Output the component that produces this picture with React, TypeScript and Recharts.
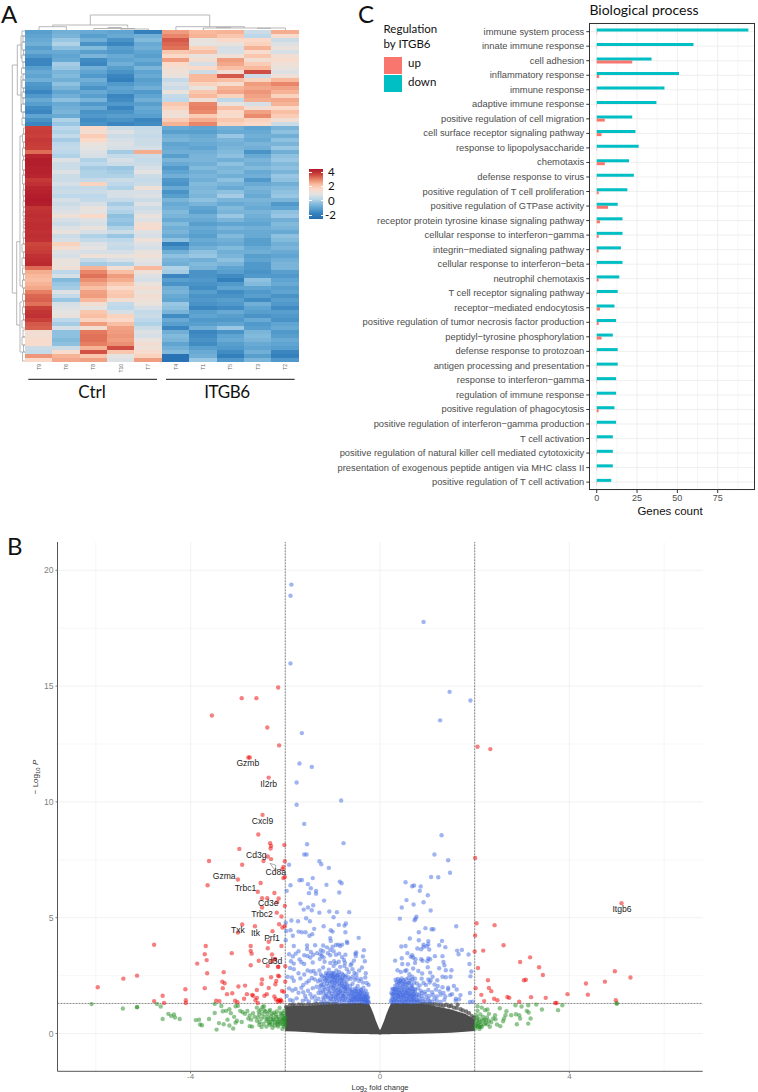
import {
  Area,
  Bar,
  BarChart,
  CartesianGrid,
  ComposedChart,
  Line,
  LineChart,
  ReferenceLine,
  Scatter,
  XAxis,
  YAxis,
} from "recharts";

type Pair = [number, number];

// ─── Panel A: heatmap values, one list per sample column ───────────────────

const HEAT_SAMPLES = ["T9", "T6", "T8", "T10", "T7", "T4", "T1", "T5", "T3", "T2"];

const HEAT_T9 = [
  -1.5, -1.4, -1.3, -1.2, -1.5, -1.3, -1.6, -1.9, -1.9, -1.5, -1.3, -1.4, -1.2, -1.6, -1.7, -1.9, -1.6, -1.3, -1.5, -1.8, -1.9, -1.4, -1.7, -1.9,
  3.0, 3.1, 3.0, 3.2, 3.1, 3.0, 2.3, 3.7, 3.9, 3.9, 3.8, 3.8, 3.7, 3.2, 3.4, 3.7, 3.8, 3.9, 4.0, 3.9, 3.3, 3.4, 3.5, 3.4, 3.5, 3.5, 3.4, 3.5, 3.4, 2.9, 3.0, 3.1, 3.4, 3.5, 3.6,
  2.3, 1.2, 1.0, 0.9, 1.1, 1.3, 2.0, 2.4, 2.5, 2.2, 3.0, 3.3, 3.4, 3.0, 2.6, 2.5,
  0.3, 0.3, 0.4, 0.4, -0.3, -0.4, 1.6, 0.5,
];
const HEAT_T6 = [
  -1.2, -1.1, -0.8, -0.6, -0.9, -1.3, -1.4, -1.3, -0.7, -0.8, -1.1, -1.0, -1.2, -0.9, -1.1, -1.4, -1.2, -0.9, -1.3, -1.2, -1.1, -1.3, -0.6, -0.8,
  -0.5, -0.6, -0.4, -0.7, -0.5, -0.4, -0.5, -0.6, -0.1, -0.3, -0.3, -0.1, -0.3, -0.3, -0.2, -0.4, -0.3, -0.5, -0.2, -0.3, -0.2, -0.1, 0.2, -0.2, -0.3, -0.1, 0.1, -0.3, -0.2, 0.6, 0.3, -0.1, -0.2, 0.1, 0.1,
  0.2, -0.5, -0.2, -1.0, -0.8, -0.7, -0.1, -0.4, -0.8, -0.2, -0.1, 0, 0.1, -0.5, -0.7, -0.2,
  -0.9, -0.9, -1.0, -0.9, -0.3, 0.4, 1.1, 1.3,
];
const HEAT_T8 = [
  -1.3, -1.5, -1.2, -1.7, -1.0, -1.5, -1.1, -1.8, -1.9, -1.2, -1.4, -1.6, -1.2, -1.4, -1.7, -1.3, -1.5, -1.1, -1.6, -1.3, -1.7, -1.6, -1.8, -1.7,
  0.5, 0.3, 0.7, 0.5, 0.1, 0, -0.1, -0.2, -0.6, -0.5, -0.7, -0.6, -0.6, -0.4, 0.6, -0.4, -0.3, -0.5, -0.4, -0.2, 0.1, 0, 0.5, -0.1, -0.2, 0.1, -0.2, -0.6, -0.4, -0.1, 0, -0.2, 0.2, -0.4, -0.7,
  1.1, 1.9, 2.2, 1.7, 1.3, 0.9, 1.4, 1.5, 1.0, 0.3, 0, 0.8, 0.9, 0.6, 1.5, 0.3,
  2.1, 2.2, 2.2, 2.0, 1.1, 2.7, 0.8, 1.4,
];
const HEAT_T10 = [
  -1.4, -1.3, -1.7, -1.9, -1.5, -1.6, -1.3, -1.4, -1.2, -1.5, -1.7, -1.9, -2.0, -1.6, -1.4, -1.5, -1.9, -1.8, -1.6, -1.9, -1.7, -1.5, -1.7, -1.9,
  -0.3, -0.1, -0.3, -0.2, -0.1, -0.2, -0.7, -0.4, -0.2, -0.3, -0.8, -0.7, -0.6, -0.3, -0.5, -0.6, -0.2, -0.2, -0.4, -0.7, -0.5, -0.6, -0.9, -0.8, -0.9, -0.6, -0.3, -0.8, -0.5, -0.3, -0.4, -0.2, 0.1, -0.2, -0.6,
  0.3, 0.9, 1.5, 1.2, 0.8, 0.5, 0.7, 0.8, 0.3, -0.4, -0.5, -0.2, 0.6, 0.5, 0.9, 1.4,
  1.5, 1.6, 1.5, 1.7, 2.8, 0.8, 0, -0.1,
];
const HEAT_T7 = [
  -2.0, -1.2, -1.0, -1.3, -1.2, -1.4, -1.5, -1.3, -1.5, -1.1, -1.4, -1.3, -1.5, -1.4, -1.2, -1.6, -1.4, -1.2, -1.5, -1.3, -1.4, -1.5, -1.9, -1.8,
  -0.4, -0.3, -0.4, -0.3, -0.3, -0.2, 1.2, -0.3, -0.4, -0.3, -0.2, 0, -0.3, -0.4, -0.3, 0.2, -0.2, -0.1, -0.3, -0.1, -0.3, -0.2, 0.1, -0.1, 0.3, 0.4, -0.1, -0.2, 0.2, -0.1, -0.2, 0.1, 0.2, 0, -0.1,
  1.0, 0.2, -0.1, -0.2, 0.1, 0.3, 0.1, 0.3, 0.2, 0.1, -0.2, -0.4, -0.3, -0.5, -0.6, -0.3,
  -0.1, -0.2, 0.1, 0.3, 0.2, 0.4, 0.6, 1.5,
];
const HEAT_T4 = [
  1.5, 1.9, 2.6, 2.4, 2.2, 0.8, 0.5, 1.4, 0.5, 0.3, 0.2, 0.1, -0.4, -0.2, -0.3, 0.1, -0.4, -0.5, 0.8, 0.6, 0.3, 0.2, 0.7, 1.1,
  -1.3, -1.5, -1.2, -1.1, -1.4, -1.3, -1.2, -1.5, -1.1, -1.3, -1.6, -1.4, -1.2, -1.6, -1.7, -1.3, -1.7, -1.5, -1.1, -1.3, -1.2, -1.0, -1.1, -1.3, -1.0, -1.2, -1.1, -1.3, -0.9, -2.0, -1.7, -1.2, -0.9, -1.1, -1.2,
  -0.6, -0.7, -1.9, -1.5, -1.7, -1.2, -1.1, -1.3, -1.4, -0.8, -0.9, -1.1, -1.8, -1.3, -1.5, -1.9,
  -1.2, -1.0, -1.1, -1.4, -1.2, -1.0, -2.4, -2.4,
];
const HEAT_T1 = [
  1.0, 1.1, 0.1, 0, 0.6, 0.9, 0.1, 0.3, -0.2, 0.5, -0.3, 1.0, 1.0, 0.6, 0.1, 0.8, 1.0, 0.2, 1.9, 2.0, 1.8, 0.7, 1.2, 1.9,
  -1.4, -1.5, -1.3, -1.2, -1.3, -1.4, -1.2, -1.1, -1.1, -1.2, -1.0, -1.2, -1.1, -1.2, -1.0, -1.1, -1.0, -1.1, -0.9, -1.1, -1.4, -1.5, -1.2, -1.3, -1.5, -1.3, -1.4, -1.5, -1.3, -1.4, -1.2, -0.9, -0.8, -1.2, -1.0,
  -1.1, -1.7, -1.7, -1.6, -1.7, -1.8, -1.5, -1.7, -1.6, -1.7, -1.9, -1.5, -1.4, -1.6, -1.5, -1.2,
  -1.9, -1.8, -1.7, -1.8, -1.5, -1.3, -1.2, -0.8,
];
const HEAT_T5 = [
  1.1, 0.8, 0.5, 0.1, -0.2, -0.2, 0.2, 1.5, 1.3, 0.9, 0.3, 2.6, 0.9, 0.4, 1.1, 1.3, 0.6, -0.5, 0.1, 0.9, 0.5, 0.4, 0.8, 0.6,
  -1.2, -1.3, -0.8, -1.1, -1.2, -1.1, -1.0, -0.9, -1.2, -0.9, -1.1, -1.0, -1.2, -0.9, -1.1, -1.3, -0.9, -0.7, -1.1, -1.3, -1.0, -1.1, -0.8, -1.1, -1.4, -1.1, -1.3, -1.0, -1.2, -1.3, -1.0, -1.2, -1.1, -0.9, -1.1,
  -1.4, -1.5, -1.8, -2.0, -1.6, -1.4, -1.8, -1.7, -1.5, -1.6, -1.8, -1.3, -1.5, -1.6, -1.4, -0.8,
  -1.7, -1.4, -1.3, -1.5, -1.6, -1.8, -2.0, -1.6,
];
const HEAT_T3 = [
  -0.3, -0.5, 0.5, 0.6, 1.1, 0.4, 0.8, 0.3, 0.7, 1.0, 2.8, -0.3, 0.6, 1.5, 1.3, 1.6, 1.4, 1.2, -0.2, 0.3, 1.4, 1.8, 0.6, 0.5,
  -1.4, -1.3, -1.2, -1.3, -1.1, -1.2, -1.7, -1.3, -1.1, -1.2, -1.0, -1.3, -1.2, -1.6, -1.3, -1.1, -1.2, -1.3, -1.1, -1.2, -1.3, -1.1, -1.2, -1.3, -1.4, -1.2, -1.3, -1.3, -1.5, -1.5, -1.3, -1.2, -1.5, -1.4, -1.6,
  -1.6, -1.7, -1.6, -0.9, -1.0, -1.4, -1.6, -1.5, -1.8, -1.2, -1.4, -1.5, -1.7, -1.3, -1.6, -1.5,
  -1.1, -1.0, -1.1, -1.3, -1.4, -1.2, -1.5, -1.1,
];
const HEAT_T2 = [
  1.2, 0.4, -0.3, -0.1, 0.1, -0.2, 0.3, 0.4, 0.2, 0.1, -0.1, 0.2, 1.0, 1.9, 1.4, 1.1, 0.6, 1.3, 1.1, 0.5, 0.9, 0.7, 0.3, -0.3,
  -1.1, -0.9, -1.2, -0.9, -1.1, -0.8, -1.2, -0.9, -0.8, -1.0, -0.9, -1.1, -0.8, -0.9, -1.2, -1.0, -0.9, -0.8, -1.1, -1.6, -1.4, -0.9, -0.8, -1.2, -1.0, -1.1, -1.3, -0.9, -1.0, -1.2, -1.1, -1.3, -1.4, -1.2, -1.1,
  -1.1, -1.5, -1.6, -1.4, -1.3, -1.5, -1.4, -1.7, -1.5, -1.6, -1.8, -1.5, -1.6, -1.7, -1.4, -1.3,
  -1.6, -1.5, -1.3, -1.4, -1.5, -1.9, -2.0, -1.6,
];
const HEAT_COLUMNS = [HEAT_T9, HEAT_T6, HEAT_T8, HEAT_T10, HEAT_T7, HEAT_T4, HEAT_T1, HEAT_T5, HEAT_T3, HEAT_T2];

// dendrogram branches, in picture pixels of panel A
const DENDRO_TOP: Pair[][] = [
  [[90.3, 25], [90.3, 15], [209.7, 15], [209.7, 26.7]],
  [[52.7, 26.7], [52.7, 25], [127.7, 25], [127.7, 27.5]],
  [[39, 30], [39, 26.7], [66.4, 26.7], [66.4, 30]],
  [[93.8, 30], [93.8, 28.5], [135, 28.5]],
  [[121.2, 30], [121.2, 29], [148.5, 29], [148.5, 30]],
  [[107.7, 27.5], [121.7, 27.5]],
  [[175.9, 30], [175.9, 26.7], [244.3, 26.7], [244.3, 28]],
  [[203.3, 30], [203.3, 28], [285.4, 28], [285.4, 30]],
  [[216, 27.6], [231, 27.6]],
  [[257, 28.3], [271, 28.3]],
];
const DENDRO_LEFT_SPINE: Pair[][] = [
  [[17.3, 65], [12.3, 65], [12.3, 293], [16.7, 293]],
  [[21, 45], [17.3, 45], [17.3, 95], [21, 95]],
  [[20, 241.7], [16.7, 241.7], [16.7, 325], [20, 325]],
  [[22, 36], [21, 36], [21, 58], [22, 58]],
  [[22, 76], [21, 76], [21, 112], [22, 112]],
  [[22, 136], [20, 136], [20, 286], [22, 286]],
  [[22, 302], [20, 302], [20, 352], [22, 352]],
];
// [inner x, top y, bottom y] of the small brackets next to the heatmap rows
const DENDRO_COMB = [
  [22, 31, 36], [23, 36, 42], [22, 42, 50], [23.5, 50, 55], [22, 55, 62], [23, 62, 68], [21.5, 68, 74], [23, 74, 80],
  [22, 80, 88], [23.5, 88, 92], [22, 92, 98], [23, 98, 104], [21.5, 104, 112], [23, 112, 118], [22, 118, 125],
  [23.5, 128, 134], [22.5, 134, 142], [23.5, 142, 148], [22.5, 148, 156], [23.5, 156, 160], [22.5, 160, 170], [23.5, 170, 175],
  [22.5, 175, 184], [23.5, 184, 190], [23, 190, 196], [23.5, 196, 201], [23, 201, 207], [23.5, 207, 212], [23, 212, 216],
  [23.8, 216, 219], [23.2, 219, 222], [23.8, 222, 225], [23.2, 225, 228], [23.8, 228, 232], [23, 232, 238], [23.5, 238, 244],
  [22, 244, 252], [23.5, 252, 258], [22, 258, 266], [22.5, 268, 274], [23.5, 274, 280], [22.5, 280, 288], [23.5, 288, 294],
  [22.5, 294, 301], [23.5, 301, 307], [22.5, 307, 314], [23.5, 314, 320], [22, 320, 328], [23, 330, 337], [22, 337, 345],
  [23.5, 345, 352], [22.5, 352, 361],
];
const GROUP_RULES: Pair[][] = [
  [[28.3, 379.3], [157, 379.3]],
  [[166, 379.3], [294.6, 379.3]],
];

// ─── Panel C: gene counts ──────────────────────────────────────────────────

const BP_TERMS = [
  "immune system process",
  "innate immune response",
  "cell adhesion",
  "inflammatory response",
  "immune response",
  "adaptive immune response",
  "positive regulation of cell migration",
  "cell surface receptor signaling pathway",
  "response to lipopolysaccharide",
  "chemotaxis",
  "defense response to virus",
  "positive regulation of T cell proliferation",
  "positive regulation of GTPase activity",
  "receptor protein tyrosine kinase signaling pathway",
  "cellular response to interferon\u2212gamma",
  "integrin\u2212mediated signaling pathway",
  "cellular response to interferon\u2212beta",
  "neutrophil chemotaxis",
  "T cell receptor signaling pathway",
  "receptor\u2212mediated endocytosis",
  "positive regulation of tumor necrosis factor production",
  "peptidyl\u2212tyrosine phosphorylation",
  "defense response to protozoan",
  "antigen processing and presentation",
  "response to interferon\u2212gamma",
  "regulation of immune response",
  "positive regulation of phagocytosis",
  "positive regulation of interferon\u2212gamma production",
  "T cell activation",
  "positive regulation of natural killer cell mediated cytotoxicity",
  "presentation of exogenous peptide antigen via MHC class II",
  "positive regulation of T cell activation",
];
const BP_DOWN = [94, 60, 34, 51, 42, 37, 22, 24, 26, 20, 23, 19, 13, 16, 16, 15, 16, 14, 13, 11, 12, 10, 13, 13, 12, 12, 11, 12, 10, 10, 10, 9];
const BP_UP = [0.3, 0.2, 22, 1.5, 0.2, 0.2, 5, 3, 0.2, 5, 0.2, 1.2, 7, 2, 1.2, 1.2, 0.2, 1.2, 0.2, 2, 1.2, 3, 0.2, 0.2, 0.2, 0.2, 1.2, 0.2, 0.2, 0.2, 0.2, 0.2];
const BP_MINOR = [12.5, 37.5, 62.5, 87.5];
const BP_MAJOR = [0, 25, 50, 75];

// ─── Panel B: volcano points ───────────────────────────────────────────────

const RED_POINTS: Pair[] = [
  [-2.15, 14.94], [-2.92, 14.48], [-2.61, 14.48], [-3.55, 13.73], [-2.38, 13.21], [-2.13, 12.44], [-2.78, 11.92], [-2.75, 11.92], [-2.35, 11.05],
  [2.06, 12.38], [2.33, 12.28],
  [-2.48, 9.44], [-2.57, 8.59], [-2.32, 8.22], [-2.3, 8.1], [-2.31, 7.99], [-2.02, 8.14], [-2.97, 7.97], [-2.37, 7.64], [-2.3, 7.53], [-3.61, 7.45],
  [-2.46, 7.45], [-2.01, 7.44], [-2.91, 7.29], [-2.04, 7.19], [-2.06, 7.09], [-2.01, 6.76], [-2.04, 6.71], [-3.0, 6.65], [-2.52, 6.5], [-3.64, 6.4],
  [-2.58, 6.12], [-2.23, 6.07], [-2.49, 5.84], [-2.38, 5.84], [-2.14, 5.83], [-2.17, 5.67], [-2.49, 5.44], [-2.01, 5.51], [-2.18, 5.22], [-2.08, 5.05],
  [-2.13, 4.72], [-2.91, 4.71], [-2.64, 4.63], [-2.01, 4.63], [-2.06, 4.58], [-2.27, 4.42], [-3.0, 4.36], [-2.35, 3.96], [-4.77, 3.83], [-3.68, 3.78],
  [-2.73, 3.78], [-2.08, 3.78], [-2.37, 3.68], [-2.73, 3.57], [-2.71, 3.45], [-3.13, 3.47], [-3.7, 3.42], [-2.28, 3.41], [-2.22, 3.22], [-2.22, 3.2],
  [-3.66, 3.17], [-2.56, 3.14], [-2.29, 3.12], [-3.86, 3.02], [-2.73, 2.95], [-2.37, 2.92], [-2.15, 2.89], [-2.15, 2.87], [-2.0, 2.91], [-3.3, 2.65],
  [-3.65, 2.6], [-5.13, 2.5], [-2.15, 2.5], [-2.13, 2.47], [-2.3, 2.43], [-5.42, 2.37], [-2.49, 2.33], [-3.33, 2.24], [-3.28, 2.17], [-2.0, 2.24],
  [-2.19, 2.27], [-2.21, 2.13], [-2.5, 2.14], [-5.96, 2.0], [-2.85, 2.07], [-2.99, 2.03], [-3.7, 1.96], [-3.32, 1.96], [-4.11, 1.91], [-2.35, 1.97],
  [-2.6, 1.88], [-2.07, 1.84], [-2.03, 1.8], [-3.12, 1.74], [-3.23, 1.7], [-2.81, 1.7], [-2.7, 1.67], [-2.68, 1.63], [-2.39, 1.7], [-2.44, 1.63],
  [-2.23, 1.6], [-4.59, 1.63], [-2.87, 1.5], [-2.6, 1.54], [-2.2, 1.48], [-4.77, 1.4], [-4.1, 1.44], [-4.1, 1.32], [-4.56, 1.32], [-3.46, 1.42],
  [-3.39, 1.4], [-3.06, 1.42], [-3.01, 1.35], [-2.63, 1.44], [-2.58, 1.32], [-2.16, 1.37], [-2.11, 1.4], [-2.08, 1.4], [-2.14, 1.44], [-2.1, 1.46],
  [2.01, 7.58], [5.1, 5.63], [2.04, 4.76], [2.42, 4.68], [2.01, 4.23], [2.61, 3.81], [2.0, 3.54], [2.18, 3.58], [3.17, 3.29], [2.96, 3.09], [2.07, 2.83],
  [3.36, 2.86], [4.96, 2.69], [3.44, 2.53], [5.29, 2.42], [2.28, 2.3], [3.04, 2.3], [3.08, 2.32], [4.75, 2.24], [4.35, 2.16], [2.02, 1.96], [2.3, 1.97],
  [2.35, 1.83], [2.14, 1.67], [3.96, 1.7], [4.39, 1.68], [2.69, 1.58], [2.73, 1.54], [3.19, 1.57], [3.5, 1.54], [2.41, 1.5], [2.48, 1.44], [2.2, 1.4],
  [2.94, 1.37], [3.7, 1.32], [3.73, 1.32], [4.98, 1.44],
];

const GREEN_POINTS: Pair[] = [
  [5.0, 1.31], [5.0, 1.29], [2.86, 1.22], [2.99, 1.17], [3.13, 1.22], [3.3, 1.25], [3.85, 1.22], [3.76, 1.01], [3.42, 1.04], [3.1, 0.98], [3.14, 0.91],
  [3.18, 0.65], [3.13, 0.43], [2.89, 0.4], [2.94, 0.79], [2.87, 0.83], [2.77, 0.79], [2.96, 0.65], [2.67, 0.96], [2.53, 1.09], [2.65, 0.79], [2.62, 0.65],
  [2.6, 0.53], [2.54, 0.32], [2.47, 0.39], [2.43, 0.79], [2.44, 0.62], [2.39, 0.65], [2.32, 0.29], [2.35, 0.49], [2.27, 1.04], [2.22, 1.01], [2.15, 1.12],
  [2.06, 1.18], [2.06, 0.98], [2.03, 0.79], [2.18, 0.72], [2.24, 0.58], [2.11, 0.5], [2.04, 0.4], [2.08, 0.29], [2.01, 0.22], [2.15, 0.29], [2.27, 0.4],
  [2.2, 0.4], [2.05, 0.6], [2.12, 0.82], [2.02, 0.35], [2.3, 0.85], [2.1, 0.2],
  [2.05, 0.7], [2.08, 0.45], [2.1, 0.62], [2.13, 0.38], [2.16, 0.55], [2.2, 0.6], [2.23, 0.45], [2.26, 0.7], [2.3, 0.55], [2.03, 0.52], [2.06, 0.32], [2.12, 0.28],
  [-6.09, 1.27], [-5.43, 1.08], [-5.13, 1.15], [-5.13, 1.13], [-4.71, 1.28], [-4.63, 1.17], [-4.59, 0.63], [-4.47, 0.85], [-4.41, 0.76], [-4.35, 0.82],
  [-4.33, 0.69], [-4.23, 0.63], [-3.89, 0.58], [-3.82, 0.6], [-3.8, 0.39], [-3.76, 0.36], [-3.61, 0.63], [-3.49, 0.89], [-3.49, 1.28], [-3.35, 1.19],
  [-3.32, 0.96], [-3.45, 0.17], [-3.4, 0.45], [-3.3, 0.4], [-3.22, 0.6], [-3.18, 0.35], [-3.1, 0.22], [-3.05, 0.47], [-3.02, 0.55], [-3.08, 0.72],
  [-3.15, 0.88], [-3.25, 0.98], [-3.18, 1.05], [-3.05, 1.18], [-3.0, 1.2], [-2.95, 0.98], [-2.9, 0.92], [-2.85, 0.85], [-2.8, 0.97], [-2.75, 0.78],
  [-2.72, 0.6], [-2.68, 0.88], [-2.65, 0.72], [-2.6, 0.55], [-2.55, 0.38], [-2.5, 0.28], [-2.55, 0.82], [-2.52, 1.03], [-2.48, 1.15], [-2.44, 0.72],
  [-2.42, 0.95], [-2.38, 0.62], [-2.35, 0.45], [-2.32, 1.02], [-2.28, 0.85], [-2.25, 0.58], [-2.22, 0.35], [-2.2, 0.72], [-2.18, 0.95], [-2.15, 0.52],
  [-2.12, 1.1], [-2.1, 0.42], [-2.08, 0.82], [-2.05, 0.62], [-2.03, 0.3], [-2.02, 0.98], [-2.0, 0.5], [-2.75, 0.32], [-2.7, 0.3], [-2.4, 0.3], [-2.3, 0.6],
  [-2.33, 0.38], [-2.27, 0.25], [-2.18, 0.45], [-2.12, 0.62], [-2.06, 0.2], [-2.15, 0.3], [-2.45, 1.18], [-2.6, 1.12], [-2.78, 0.65], [-2.92, 0.5],
  [-2.58, 0.7], [-2.56, 0.95], [-2.54, 0.5], [-2.5, 0.65], [-2.48, 0.85], [-2.46, 0.42], [-2.44, 1.0], [-2.4, 0.55], [-2.38, 0.85], [-2.36, 0.7],
  [-2.34, 0.95], [-2.32, 0.5], [-2.3, 0.75], [-2.28, 0.4], [-2.26, 0.65], [-2.24, 0.9], [-2.22, 0.5], [-2.2, 0.82], [-2.18, 0.62], [-2.16, 0.38],
  [-2.14, 0.72], [-2.12, 0.48], [-2.1, 0.9], [-2.08, 0.58], [-2.06, 0.4], [-2.06, 0.75], [-2.04, 0.52], [-2.04, 0.88], [-2.03, 0.65], [-2.02, 0.42],
  [-2.01, 0.75], [-2.01, 0.58], [-2.0, 0.35], [-2.0, 0.68],
];

const BLUE_LEFT: Pair[] = [
  [-1.87, 19.38], [-1.89, 18.9], [-1.89, 15.98], [-1.65, 12.97], [-1.7, 11.66], [-1.44, 11.51], [-1.76, 10.84], [-0.82, 10.06], [-1.76, 9.88],
  [-1.6, 9.05], [-1.54, 8.17], [-0.77, 8.22], [-1.6, 7.73], [-1.55, 7.73], [-1.92, 7.29], [-1.28, 7.44], [-1.24, 7.31], [-1.08, 7.15], [-1.7, 6.62],
  [-1.65, 6.63], [-1.42, 6.71], [-1.89, 6.4], [-1.52, 6.45], [-1.46, 6.27], [-1.13, 6.42], [-0.85, 6.56], [-0.81, 6.49], [-1.97, 6.16], [-1.35, 6.16],
  [-1.5, 6.06], [-1.35, 6.04], [-0.86, 6.09], [-1.18, 5.74], [-1.68, 5.61], [-1.41, 5.54], [-1.52, 5.44], [-1.61, 5.35], [-1.44, 5.32], [-1.28, 5.22],
  [-1.07, 5.27], [-0.91, 5.24], [-0.65, 5.24], [-0.98, 5.02], [-1.56, 4.98], [-1.87, 4.88], [-1.73, 4.85], [-1.48, 4.85], [-1.99, 4.78], [-1.19, 4.63],
  [-0.87, 4.69], [-0.72, 4.75], [-0.75, 4.66], [-1.98, 4.43], [-1.89, 4.46], [-1.72, 4.4], [-1.65, 4.37], [-1.57, 4.37], [-1.39, 4.52], [-1.43, 4.29],
  [-1.49, 4.22], [-1.04, 4.46], [-1.0, 4.4], [-0.73, 4.37], [-1.84, 4.22], [-1.99, 4.03], [-1.05, 4.12], [-0.45, 4.13], [-0.7, 3.96], [-0.69, 3.91],
  [-1.82, 3.78], [-1.54, 3.8], [-1.37, 3.81], [-1.54, 3.65], [-1.2, 3.8], [-1.12, 3.72], [-1.04, 4.0], [-0.93, 3.82], [-0.88, 3.84], [-0.84, 3.78],
  [-0.8, 3.84], [-0.34, 3.6], [-0.5, 3.5], [-1.72, 3.55], [-1.46, 3.52], [-1.33, 3.47], [-1.25, 3.6], [-1.2, 3.55], [-1.0, 3.75], [-1.05, 3.62], [-0.98, 3.55],
  [-1.92, 3.42], [-1.84, 3.33], [-1.78, 3.45], [-1.6, 3.38], [-1.53, 3.35], [-1.47, 3.28], [-1.41, 3.4], [-1.26, 3.42], [-1.23, 3.36], [-1.19, 3.28],
  [-1.27, 3.22], [-1.1, 3.47], [-1.05, 3.38], [-0.93, 3.4], [-0.86, 3.45], [-0.8, 3.3], [-0.76, 3.18], [-0.73, 3.4], [-0.52, 3.45], [-0.51, 3.35],
  [-0.36, 3.33], [-0.32, 3.12], [-1.88, 3.12], [-1.82, 3.02], [-1.7, 3.2], [-1.66, 3.08], [-1.6, 3.0], [-1.42, 3.07], [-1.17, 3.1], [-1.05, 3.05],
  [-0.97, 3.12], [-0.93, 3.03], [-0.87, 3.1], [-0.74, 3.06], [-0.6, 3.02], [-0.55, 3.15],
  [-1.9, 2.83], [-1.82, 2.78], [-1.72, 2.6], [-1.6, 2.55], [-1.53, 2.72], [-1.46, 2.68], [-1.4, 2.7], [-1.36, 2.58], [-1.28, 2.72], [-1.2, 2.85],
  [-1.14, 2.62], [-1.1, 2.55], [-1.08, 2.76], [-1.0, 2.5], [-0.98, 2.92], [-0.92, 2.72], [-0.86, 2.66], [-0.84, 2.88], [-0.75, 2.92], [-0.7, 2.78],
  [-0.66, 2.65], [-0.62, 2.95], [-0.58, 2.78], [-0.54, 2.62], [-0.5, 2.56], [-0.44, 2.72], [-0.38, 2.85], [-0.3, 2.6], [-0.96, 2.58], [-0.9, 2.52],
  [-1.02, 2.62], [-0.8, 2.58], [-0.78, 2.52], [-0.72, 2.5], [-1.25, 2.55],
  [-1.95, 2.45], [-1.86, 2.42], [-1.82, 2.28], [-1.68, 2.38], [-1.62, 2.1], [-1.55, 2.2], [-1.5, 2.28], [-1.44, 2.4], [-1.38, 2.34], [-1.31, 2.25],
  [-1.27, 2.32], [-1.22, 2.47], [-1.18, 2.4], [-1.15, 2.3], [-1.12, 2.42], [-1.09, 2.38], [-1.05, 2.46], [-1.02, 2.36], [-0.99, 2.44], [-0.97, 2.3],
  [-0.94, 2.4], [-0.9, 2.33], [-0.86, 2.42], [-0.83, 2.28], [-0.79, 2.38], [-0.74, 2.44], [-0.7, 2.3], [-0.66, 2.42], [-0.62, 2.36], [-0.57, 2.46],
  [-0.53, 2.32], [-0.49, 2.4], [-0.44, 2.27], [-0.4, 2.36], [-0.36, 2.2], [-0.31, 2.42], [-0.28, 2.18], [-0.24, 2.1],
  [-1.92, 1.95], [-1.85, 1.86], [-1.78, 1.92], [-1.72, 1.76], [-1.66, 1.98], [-1.62, 1.78], [-1.58, 1.62], [-1.52, 1.85], [-1.47, 1.7], [-1.42, 1.96],
  [-1.38, 1.6], [-1.34, 2.02], [-1.3, 1.75], [-1.27, 1.9], [-1.24, 2.1], [-1.2, 1.82], [-1.18, 2.0], [-1.16, 1.64], [-1.12, 2.15], [-1.1, 1.92],
  [-1.07, 1.76], [-1.05, 2.2], [-1.03, 2.02], [-1.0, 2.1], [-0.98, 1.85], [-0.96, 2.2], [-0.94, 1.98], [-0.92, 1.7], [-0.9, 2.12], [-0.88, 1.9],
  [-0.86, 2.05], [-0.84, 1.78], [-0.82, 1.96], [-0.8, 2.15], [-0.78, 1.62], [-0.76, 2.0], [-0.74, 1.84], [-0.72, 1.95], [-0.7, 2.12], [-0.68, 1.72],
  [-0.66, 1.9], [-0.63, 2.05], [-0.6, 1.8], [-0.58, 2.15], [-0.55, 1.66], [-0.52, 1.95], [-0.5, 1.82], [-0.47, 2.05], [-0.44, 1.7], [-0.41, 1.9],
  [-0.38, 1.78], [-0.35, 1.98], [-0.32, 1.62], [-0.3, 1.85], [-0.27, 1.72], [-0.25, 1.55],
  [-1.97, 1.62], [-1.9, 1.45], [-1.84, 1.42], [-1.76, 1.52], [-1.63, 1.42], [-1.56, 1.48], [-1.5, 1.38], [-1.44, 1.55], [-1.36, 1.42], [-1.3, 1.5],
  [-1.24, 1.36], [-1.18, 1.46], [-1.14, 1.34], [-1.1, 1.55], [-1.06, 1.4], [-1.03, 1.6], [-1.0, 1.48], [-0.97, 1.36], [-0.94, 1.58], [-0.91, 1.42],
  [-0.88, 1.68], [-0.86, 1.34], [-0.83, 1.52], [-0.8, 1.4], [-0.77, 1.62], [-0.74, 1.46], [-0.71, 1.35], [-0.68, 1.56], [-0.65, 1.42], [-0.62, 1.62],
  [-0.6, 1.36], [-0.57, 1.5], [-0.54, 1.42], [-0.51, 1.58], [-0.48, 1.36], [-0.45, 1.48], [-0.42, 1.58], [-0.39, 1.4], [-0.36, 1.5], [-0.33, 1.36],
  [-0.3, 1.44], [-0.27, 1.38], [-0.24, 1.35],
];

// the two solid blue blobs left of zero
const BLUE_CORE_LEFT: Pair[] = [
  [-1.26, 2.05], [-1.24, 1.75], [-1.22, 2.25], [-1.2, 1.55], [-1.19, 2.12], [-1.17, 1.9], [-1.15, 2.5], [-1.14, 1.72], [-1.13, 2.28], [-1.11, 1.6],
  [-1.09, 2.05], [-1.08, 2.6], [-1.07, 1.85], [-1.06, 2.25], [-1.04, 1.5], [-1.03, 2.5], [-1.02, 1.72], [-1.01, 2.25], [-1.0, 1.95], [-0.99, 2.62],
  [-0.98, 1.62], [-0.97, 2.05], [-0.96, 2.42], [-0.95, 1.78], [-0.94, 2.2], [-0.93, 1.5], [-0.92, 2.5], [-0.91, 1.88], [-0.9, 2.28], [-0.89, 1.6],
  [-0.88, 2.55], [-0.87, 1.75], [-0.86, 2.2], [-0.85, 1.48], [-0.84, 2.42], [-0.83, 1.85], [-0.82, 2.12], [-0.81, 1.62], [-0.8, 2.32], [-0.79, 1.78],
  [-0.78, 2.05], [-0.77, 1.45], [-0.76, 2.25], [-0.75, 1.7], [-0.74, 1.95], [-0.73, 2.15], [-0.72, 1.55], [-0.71, 1.82], [-0.7, 2.02],
  [-0.65, 1.7], [-0.64, 1.4], [-0.63, 1.88], [-0.62, 1.52], [-0.6, 1.72], [-0.59, 1.45], [-0.58, 1.9], [-0.57, 1.6], [-0.56, 1.78], [-0.55, 1.38],
  [-0.54, 1.55], [-0.53, 1.82], [-0.52, 1.48], [-0.51, 1.7], [-0.5, 1.6], [-0.49, 1.9], [-0.48, 1.44], [-0.47, 1.72], [-0.46, 1.55], [-0.45, 1.82],
  [-0.44, 1.4], [-0.43, 1.62], [-0.42, 1.75], [-0.41, 1.48], [-0.4, 1.88], [-0.39, 1.58], [-0.38, 1.38], [-0.37, 1.7], [-0.36, 1.46], [-0.35, 1.62],
  [-0.34, 1.78], [-0.33, 1.5], [-0.32, 1.36], [-0.31, 1.58], [-0.3, 1.42], [-0.29, 1.68], [-0.28, 1.5], [-0.27, 1.34], [-0.26, 1.58], [-0.25, 1.4],
];

const BLUE_RIGHT: Pair[] = [
  [0.92, 17.77], [1.47, 14.75], [1.91, 14.38], [1.27, 13.52], [1.3, 8.56], [1.15, 7.73], [1.44, 7.48], [1.48, 6.94], [1.08, 6.76], [1.23, 6.75], [0.54, 6.53],
  [0.68, 6.36], [0.72, 6.39], [0.86, 6.35], [0.84, 6.16], [1.01, 5.97], [0.56, 5.76], [0.92, 5.67], [0.71, 5.57], [0.46, 5.44], [1.07, 5.31], [0.77, 5.04],
  [0.73, 4.89], [0.75, 4.96], [0.42, 4.96], [0.96, 4.55], [1.09, 4.5], [1.13, 4.5], [1.61, 4.63], [0.82, 4.37], [0.63, 4.1], [1.31, 4.0], [0.82, 4.03],
  [1.02, 3.99], [1.02, 3.86], [1.25, 3.81], [0.45, 3.76], [0.54, 3.78], [0.92, 3.83], [0.92, 3.74], [0.99, 3.77], [1.38, 3.73], [0.79, 3.67], [0.87, 3.64],
  [1.04, 3.63], [1.63, 3.58], [1.73, 3.61], [1.66, 3.42], [0.58, 3.47], [1.87, 3.41], [1.16, 3.34], [1.32, 3.34], [0.68, 3.38], [0.65, 3.31], [0.7, 3.28],
  [0.46, 3.25], [0.75, 3.21], [0.87, 3.21], [1.02, 3.24], [1.06, 3.21], [0.9, 3.14], [1.0, 3.12], [0.32, 3.15], [1.34, 3.09], [0.47, 3.0], [0.59, 2.99],
  [0.74, 3.05], [1.36, 2.95], [1.89, 3.0], [1.01, 2.86], [1.25, 2.82], [1.39, 2.73], [0.37, 2.73], [0.44, 2.66], [0.53, 2.7], [0.56, 2.73], [0.7, 2.81],
  [0.81, 2.7], [0.89, 2.59], [1.06, 2.63], [1.51, 2.73], [1.93, 2.68], [1.91, 2.47], [1.32, 2.45], [1.39, 2.43], [1.49, 2.45], [0.62, 2.56], [0.68, 2.45],
  [0.74, 2.37], [0.88, 2.37], [1.02, 2.33], [1.07, 2.3], [1.21, 2.3], [1.11, 2.45],
  [0.33, 2.32], [0.38, 2.36], [0.42, 2.28], [0.46, 2.38], [0.5, 2.3], [0.55, 2.34], [0.6, 2.4], [0.64, 2.28], [0.68, 2.34], [0.35, 2.22], [0.4, 2.18],
  [0.44, 2.2], [0.48, 2.14], [0.52, 2.22], [0.57, 2.12], [0.6, 2.18], [0.66, 2.1], [0.72, 2.2], [0.78, 2.16], [0.84, 2.08], [0.92, 2.18], [0.97, 2.1],
  [1.05, 2.2], [1.15, 2.12], [1.22, 2.05], [1.32, 2.0], [1.44, 1.98], [1.56, 2.05], [1.62, 1.9], [1.9, 1.75],
  [0.26, 1.92], [0.3, 1.9], [0.34, 1.96], [0.38, 1.88], [0.42, 1.98], [0.46, 1.86], [0.5, 2.0], [0.54, 1.84], [0.58, 1.96], [0.62, 1.88], [0.66, 1.98],
  [0.7, 1.84], [0.74, 1.9], [0.8, 1.95], [0.86, 1.85], [0.94, 1.8], [1.02, 1.88], [1.1, 1.78], [1.18, 1.9], [1.26, 1.82], [1.34, 1.75], [1.44, 1.9],
  [1.52, 1.7], [1.7, 1.66], [1.6, 1.5],
  [0.24, 1.75], [0.28, 1.7], [0.32, 1.78], [0.36, 1.68], [0.4, 1.76], [0.44, 1.66], [0.48, 1.74], [0.52, 1.68], [0.56, 1.78], [0.6, 1.66], [0.64, 1.72],
  [0.68, 1.62], [0.72, 1.7], [0.76, 1.6], [0.82, 1.68], [0.88, 1.62], [0.96, 1.7], [1.04, 1.62], [1.12, 1.66], [1.2, 1.6], [1.28, 1.68], [1.38, 1.6], [1.48, 1.66],
  [0.23, 1.42], [0.26, 1.55], [0.29, 1.38], [0.32, 1.52], [0.35, 1.42], [0.38, 1.58], [0.41, 1.36], [0.44, 1.5], [0.47, 1.4], [0.5, 1.56], [0.53, 1.38],
  [0.56, 1.5], [0.59, 1.42], [0.62, 1.55], [0.65, 1.36], [0.68, 1.46], [0.71, 1.52], [0.74, 1.36], [0.78, 1.45], [0.83, 1.38], [0.9, 1.5], [0.96, 1.36],
  [1.02, 1.46], [1.1, 1.38], [1.2, 1.42], [1.28, 1.36], [1.36, 1.46], [1.6, 1.42], [1.67, 1.48], [1.9, 1.36], [1.96, 1.38],
];

// the solid blue blob right of zero
const BLUE_CORE_RIGHT: Pair[] = [
  [0.25, 1.35], [0.26, 1.7], [0.27, 1.48], [0.28, 1.9], [0.29, 1.6], [0.3, 1.36], [0.31, 1.78], [0.32, 2.05], [0.33, 1.5], [0.34, 1.68], [0.35, 1.9],
  [0.36, 1.38], [0.37, 2.12], [0.38, 1.62], [0.39, 1.8], [0.4, 1.45], [0.41, 2.02], [0.42, 1.58], [0.43, 1.72], [0.44, 2.28], [0.45, 1.35], [0.46, 1.85],
  [0.47, 1.55], [0.48, 2.05], [0.49, 1.68], [0.5, 1.42], [0.51, 1.9], [0.52, 1.6], [0.53, 2.15], [0.54, 1.36], [0.55, 1.75], [0.56, 1.5], [0.57, 2.0],
  [0.58, 1.62], [0.59, 1.82], [0.6, 1.38], [0.61, 2.2], [0.62, 1.7], [0.63, 1.48], [0.64, 1.9], [0.65, 1.6], [0.66, 1.35], [0.67, 1.78], [0.68, 2.05],
  [0.69, 1.5], [0.7, 1.68], [0.71, 1.92], [0.72, 1.4], [0.73, 1.6], [0.74, 1.8], [0.76, 1.42], [0.78, 1.7], [0.8, 1.38], [0.82, 1.55], [0.85, 1.42],
  [0.88, 1.75], [0.92, 1.4], [0.98, 1.55], [1.05, 1.4], [1.15, 1.5],
];

// the solid grey mass between the threshold and the bottom of the V
const GREY_X = [-2, -1.8, -1.5, -1.2, -1.0, -0.8, -0.5, -0.25, -0.2, -0.15, -0.1, -0.05, 0, 0.05, 0.1, 0.15, 0.2, 0.25, 0.5, 0.8, 1, 1.2, 1.5, 1.8, 2];
const GREY_LOW = [0.14, 0.13, 0.1, 0.06, 0.05, 0.03, 0.02, 0.02, 0.01, 0.01, 0.01, 0.01, 0, 0.01, 0.01, 0.01, 0.01, 0.02, 0.02, 0.03, 0.05, 0.06, 0.08, 0.12, 0.15];
const GREY_HIGH = [1.12, 1.15, 1.15, 1.2, 1.22, 1.26, 1.28, 1.28, 1.05, 0.8, 0.5, 0.25, 0.04, 0.25, 0.5, 0.8, 1.05, 1.28, 1.28, 1.27, 1.2, 1.12, 1.0, 0.8, 0.55];
const GREY_POINTS: Pair[] = [
  [-1.98, 1.15], [-1.9, 1.22], [-1.84, 1.25], [-1.8, 1.2], [-1.72, 1.24], [-1.66, 1.25], [-1.6, 1.22], [-1.52, 1.26], [-1.46, 1.22], [-1.4, 1.25], [-1.34, 1.28],
  [-1.28, 1.26], [-1.22, 1.28], [-1.16, 1.27], [-1.1, 1.28], [-1.04, 1.26], [-0.98, 1.28], [-0.92, 1.27],
  [0.85, 1.25], [0.9, 1.28], [0.95, 1.27], [1.0, 1.26], [1.05, 1.28], [1.1, 1.24], [1.15, 1.27], [1.22, 1.25], [1.28, 1.22], [1.34, 1.2], [1.4, 1.24], [1.46, 1.18],
  [1.5, 1.2], [1.56, 1.12], [1.62, 1.1], [1.64, 1.25], [1.7, 1.05], [1.75, 1.0], [1.82, 0.95], [1.88, 0.88], [1.94, 0.75], [1.98, 0.68],
];

const GENE_NAMES = ["Gzmb", "Il2rb", "Cxcl9", "Cd3g", "Cd8a", "Gzma", "Trbc1", "Cd3e", "Trbc2", "Txk", "Itk", "Prf1", "Cd3d", "Itgb6"];
const GENE_X = [-2.79, -2.35, -2.48, -2.61, -2.2, -3.29, -2.84, -2.36, -2.49, -3.0, -2.63, -2.28, -2.28, 5.11];
const GENE_Y = [11.66, 10.79, 9.18, 7.7, 6.98, 6.82, 6.27, 5.63, 5.18, 4.49, 4.36, 4.14, 3.15, 5.37];

const VOLCANO_MINOR_X = [-6, -2, 2, 6];
const VOLCANO_MINOR_Y = [2.5, 7.5, 12.5, 17.5];
const VOLCANO_MAJOR_X = [-4, 0, 4];
const VOLCANO_MAJOR_Y = [0, 5, 10, 15, 20];

// ─── Tables built from the lists above ─────────────────────────────────────

const heatRows = HEAT_T9.map((_, i) => ({ row: i }));
const barRows = BP_TERMS.map((term, i) => ({ term, down: BP_DOWN[i], up: BP_UP[i] }));
const greyBand = GREY_X.map((x, i) => ({ x, band: [GREY_LOW[i], GREY_HIGH[i]] }));
const toPoints = (pairs: Pair[]) => pairs.map(([x, y]) => ({ x, y }));
const geneRows = GENE_NAMES.map((name, i) => ({ name, x: GENE_X[i], y: GENE_Y[i] }));

// polylines with a gap row between them, for a single Line
function withGaps(lines: Pair[][]) {
  const rows: { x: number; y: number | null }[] = [];
  lines.forEach((line) => {
    line.forEach(([x, y]) => rows.push({ x, y }));
    rows.push({ x: line[line.length - 1][0], y: null });
  });
  return rows;
}
const combLines: Pair[][] = DENDRO_COMB.map(([inner, top, bottom]) => [
  [25, top],
  [inner, top],
  [inner, bottom],
  [25, bottom],
]);

// ─── Colours ───────────────────────────────────────────────────────────────

const HEAT_STOPS: [number, number[]][] = [
  [-2.5, [38, 110, 176]],
  [-2, [52, 128, 189]],
  [-1.5, [88, 159, 206]],
  [-1, [130, 186, 220]],
  [-0.5, [188, 216, 234]],
  [0, [229, 227, 225]],
  [0.5, [251, 217, 200]],
  [1, [248, 185, 156]],
  [2, [231, 127, 98]],
  [3, [201, 64, 58]],
  [4, [176, 26, 42]],
];

function heatColor(v: number) {
  for (let i = 1; i < HEAT_STOPS.length; i++) {
    const [hi, c1] = HEAT_STOPS[i];
    const [lo, c0] = HEAT_STOPS[i - 1];
    if (v <= hi) {
      const t = Math.max(0, (v - lo) / (hi - lo));
      return `rgb(${c0.map((c, k) => Math.round(c + (c1[k] - c) * t)).join(",")})`;
    }
  }
  return "rgb(176,26,42)";
}

const UP_COLOR = "#F8766D";
const DOWN_COLOR = "#00BFC4";

// ─── Small pieces ──────────────────────────────────────────────────────────

function dot(fill: string, opacity: number) {
  return (p: any) => <circle cx={p.cx} cy={p.cy} r={2.2} fill={fill} fillOpacity={opacity} />;
}

function SampleTick({ x, y, payload }: any) {
  const label = HEAT_SAMPLES[Math.floor(payload.value)];
  return (
    <text
      transform={`rotate(-90 ${x} ${y})`}
      x={x}
      y={y}
      dy={2}
      textAnchor="end"
      fontSize={5}
      fill="#666"
      fontFamily="Liberation Sans"
    >
      {label}
    </text>
  );
}

function TermTick({ x, y, payload }: any) {
  return (
    <text x={x} y={y} dy={3} textAnchor="end" fontSize={9.35} fill="#4d4d4d" fontFamily="Liberation Sans">
      {payload.value}
    </text>
  );
}

function GeneLabel(p: any) {
  return (
    <text x={p.cx} y={p.cy} dy={3} textAnchor="middle" fontSize={8.6} fill="#222" fontFamily="Liberation Sans">
      {p.payload.name}
    </text>
  );
}

// the open arrowhead ggrepel left next to Cd8a
function ArrowHead(p: any) {
  return <path d={`M${p.cx - 3},${p.cy - 3} L${p.cx + 3},${p.cy - 1} L${p.cx + 2},${p.cy + 4} Z`} fill="#fff" stroke="#777" strokeWidth={0.6} />;
}

function VolcanoYLabel() {
  return (
    <text transform="rotate(-90 38 237)" x={38} y={237} textAnchor="middle" fontSize={8} fill="#333" fontFamily="Liberation Sans">
      {"\u2212 Log"}
      <tspan fontSize={6} dy={2}>10</tspan>
      <tspan dy={-2} fontStyle="italic"> P</tspan>
    </text>
  );
}

function VolcanoXLabel() {
  return (
    <text x={380} y={550} textAnchor="middle" fontSize={7.6} fill="#333" fontFamily="Liberation Sans">
      Log
      <tspan fontSize={5.6} dy={2}>2</tspan>
      <tspan dy={-2}> fold change</tspan>
    </text>
  );
}

const page: React.CSSProperties = {
  position: "absolute",
  left: 0,
  top: 0,
  width: 758,
  height: 1092,
  background: "#fff",
  overflow: "hidden",
  fontFamily: "Lato",
  color: "#111",
};

function Pos({ left, top, size, children, center }: any) {
  return (
    <div
      style={{
        position: "absolute",
        left,
        top,
        fontSize: size,
        lineHeight: 1.2,
        whiteSpace: "nowrap",
        transform: center ? "translateX(-50%)" : undefined,
      }}
    >
      {children}
    </div>
  );
}

const lineProps = { dataKey: "y", dot: false, activeDot: false, isAnimationActive: false, legendType: "none" as const };

// ─── Component ─────────────────────────────────────────────────────────────

export default function App() {
  return (
    <div style={page}>
      <Pos left={1} top={0} size={24}>A</Pos>
      <Pos left={7} top={532} size={24}>B</Pos>
      <Pos left={358} top={0} size={24}>C</Pos>

      {/* Panel A: heatmap */}
      <div style={{ position: "absolute", left: 25.3, top: 30 }}>
        <BarChart
          width={273.7}
          height={354}
          data={heatRows}
          layout="vertical"
          barCategoryGap={0}
          margin={{ top: 0, right: 0, bottom: 0, left: 0 }}
        >
          <XAxis
            type="number"
            domain={[0, 10]}
            ticks={[0.5, 1.5, 2.5, 3.5, 4.5, 5.5, 6.5, 7.5, 8.5, 9.5]}
            height={22}
            axisLine={false}
            tickLine={false}
            tickSize={0}
            tick={<SampleTick />}
            interval={0}
          />
          <YAxis type="category" dataKey="row" hide />
          {HEAT_COLUMNS.map((col, c) => (
            <Bar
              key={HEAT_SAMPLES[c]}
              dataKey={() => 1}
              stackId="heat"
              isAnimationActive={false}
              shape={(p: any) => (
                <rect x={p.x} y={p.y} width={p.width} height={p.height} fill={heatColor(col[p.index])} shapeRendering="crispEdges" />
              )}
            />
          ))}
        </BarChart>
      </div>

      {/* dendrograms and group rules, in the pixel space of the panel */}
      <div style={{ position: "absolute", left: 0, top: 0 }}>
        <LineChart width={370} height={410} margin={{ top: 0, right: 0, bottom: 0, left: 0 }}>
          <XAxis type="number" dataKey="x" domain={[0, 370]} hide />
          <YAxis type="number" dataKey="y" domain={[0, 410]} reversed hide />
          <Line {...lineProps} data={withGaps(DENDRO_TOP)} stroke="#a5a5a5" strokeWidth={0.8} />
          <Line {...lineProps} data={withGaps(DENDRO_LEFT_SPINE)} stroke="#a5a5a5" strokeWidth={0.8} />
          <Line {...lineProps} data={withGaps(combLines)} stroke="#8a8a8a" strokeWidth={0.6} />
          <Line {...lineProps} data={withGaps(GROUP_RULES)} stroke="#111" strokeWidth={1} />
        </LineChart>
      </div>
      <Pos left={92} top={382} size={17} center>Ctrl</Pos>
      <Pos left={227} top={382} size={17} center><span style={{ letterSpacing: -0.4 }}>ITGB6</span></Pos>

      {/* heatmap colour key */}
      <div
        style={{
          position: "absolute",
          left: 308.7,
          top: 169,
          width: 14.6,
          height: 50,
          background: `linear-gradient(to bottom, ${[4, 3, 2, 1, 0.5, 0, -0.5, -1, -1.5, -2, -2.5].map(heatColor).join(",")})`,
        }}
      />
      {[172, 186, 200, 215].map((y) => (
        <div key={y} style={{ position: "absolute", left: 308.7, top: y, width: 14.6, height: 1, background: "linear-gradient(to right, #fff 3px, transparent 3px, transparent 11.6px, #fff 11.6px)" }} />
      ))}
      <Pos left={328} top={165} size={11.5}>4</Pos>
      <Pos left={328} top={179} size={11.5}>2</Pos>
      <Pos left={328} top={193.5} size={11.5}>0</Pos>
      <Pos left={325} top={208} size={11.5}>-2</Pos>

      {/* Panel C: bars */}
      <div style={{ position: "absolute", left: 320, top: 0 }}>
        <BarChart
          width={438}
          height={530}
          data={barRows}
          layout="vertical"
          barSize={3}
          barGap={0}
          margin={{ top: 23.3, right: 2.7, bottom: 0, left: 0 }}
        >
          <CartesianGrid stroke="#f2f2f2" strokeWidth={0.8} horizontal={false} verticalValues={BP_MINOR} />
          <CartesianGrid stroke="#ebebeb" strokeWidth={0.8} verticalValues={BP_MAJOR} />
          <XAxis
            type="number"
            domain={[-4.6, 98.3]}
            ticks={BP_MAJOR}
            height={40}
            tick={{ fontSize: 9, fill: "#4d4d4d", fontFamily: "Liberation Sans" }}
            tickLine={{ stroke: "#333" }}
            tickSize={3}
            axisLine={false}
          />
          <YAxis
            type="category"
            dataKey="term"
            width={269.3}
            interval={0}
            padding={{ top: 1.1, bottom: 0.6 }}
            tick={<TermTick />}
            tickLine={{ stroke: "#333" }}
            tickSize={3}
            axisLine={false}
          />
          <Bar dataKey="down" fill={DOWN_COLOR} isAnimationActive={false} />
          <Bar dataKey="up" fill={UP_COLOR} isAnimationActive={false} />
        </BarChart>
      </div>
      <div style={{ position: "absolute", left: 589.3, top: 23.3, width: 166, height: 466.7, border: "1px solid #333", boxSizing: "border-box" }} />
      <Pos left={644} top={2} size={14} center>Biological process</Pos>
      <Pos left={670} top={504} size={11.5} center><span style={{ fontFamily: "Liberation Sans" }}>Genes count</span></Pos>
      <Pos left={383.5} top={22} size={11.5}>Regulation</Pos>
      <Pos left={383.5} top={37} size={11.5}>by ITGB6</Pos>
      <div style={{ position: "absolute", left: 384, top: 57, width: 17.6, height: 16.7, background: UP_COLOR }} />
      <div style={{ position: "absolute", left: 384, top: 75, width: 17.6, height: 17, background: DOWN_COLOR }} />
      <Pos left={408} top={56} size={11.5}>up</Pos>
      <Pos left={408} top={75} size={11.5}>down</Pos>

      {/* Panel B: volcano */}
      <div style={{ position: "absolute", left: 0, top: 540 }}>
        <ComposedChart width={758} height={552} data={greyBand} margin={{ top: 2, right: 55.3, bottom: 0, left: 0 }}>
          <CartesianGrid stroke="#f5f5f5" strokeWidth={0.8} verticalValues={VOLCANO_MINOR_X} horizontalValues={VOLCANO_MINOR_Y} />
          <CartesianGrid stroke="#efefef" strokeWidth={0.9} verticalValues={VOLCANO_MAJOR_X} horizontalValues={VOLCANO_MAJOR_Y} />
          <XAxis
            type="number"
            dataKey="x"
            domain={[-6.81, 6.815]}
            ticks={VOLCANO_MAJOR_X}
            height={20.7}
            tick={{ fontSize: 8, fill: "#7f7f7f", fontFamily: "Liberation Sans" }}
            tickLine={{ stroke: "#777" }}
            tickSize={2}
            tickMargin={0}
            axisLine={{ stroke: "#555", strokeWidth: 1 }}
          />
          <YAxis
            type="number"
            dataKey="y"
            domain={[-1.63, 21.22]}
            ticks={VOLCANO_MAJOR_Y}
            width={57.5}
            tick={{ fontSize: 8.6, fill: "#7f7f7f", fontFamily: "Liberation Sans" }}
            tickLine={{ stroke: "#777" }}
            tickSize={2}
            axisLine={{ stroke: "#555", strokeWidth: 1 }}
          />
          <Area dataKey="band" stroke="#4d4d4d" strokeWidth={2} fill="#4d4d4d" fillOpacity={1} dot={false} activeDot={false} isAnimationActive={false} />
          <Scatter data={toPoints(GREY_POINTS)} shape={dot("#4d4d4d", 0.75)} isAnimationActive={false} />
          <Scatter data={toPoints(GREEN_POINTS)} shape={dot("#228B22", 0.5)} isAnimationActive={false} />
          <Scatter data={toPoints(BLUE_LEFT)} shape={dot("#4169E1", 0.5)} isAnimationActive={false} />
          <Scatter data={toPoints(BLUE_CORE_LEFT)} shape={dot("#4169E1", 0.5)} isAnimationActive={false} />
          <Scatter data={toPoints(BLUE_RIGHT)} shape={dot("#4169E1", 0.5)} isAnimationActive={false} />
          <Scatter data={toPoints(BLUE_CORE_RIGHT)} shape={dot("#4169E1", 0.5)} isAnimationActive={false} />
          <Scatter data={toPoints(RED_POINTS)} shape={dot("#EE0000", 0.5)} isAnimationActive={false} />
          <ReferenceLine x={-2} stroke="#555" strokeWidth={0.7} strokeDasharray="2 1" />
          <ReferenceLine x={2} stroke="#555" strokeWidth={0.7} strokeDasharray="2 1" />
          <ReferenceLine y={1.3} stroke="#555" strokeWidth={0.7} strokeDasharray="2 1" />
          <Scatter data={[{ x: -2.26, y: 7.22 }]} shape={<ArrowHead />} isAnimationActive={false} />
          <Scatter data={geneRows} shape={<GeneLabel />} isAnimationActive={false} />
        </ComposedChart>
      </div>
      <svg width={758} height={552} style={{ position: "absolute", left: 0, top: 540, pointerEvents: "none" }}>
        <VolcanoYLabel />
        <VolcanoXLabel />
      </svg>
    </div>
  );
}
